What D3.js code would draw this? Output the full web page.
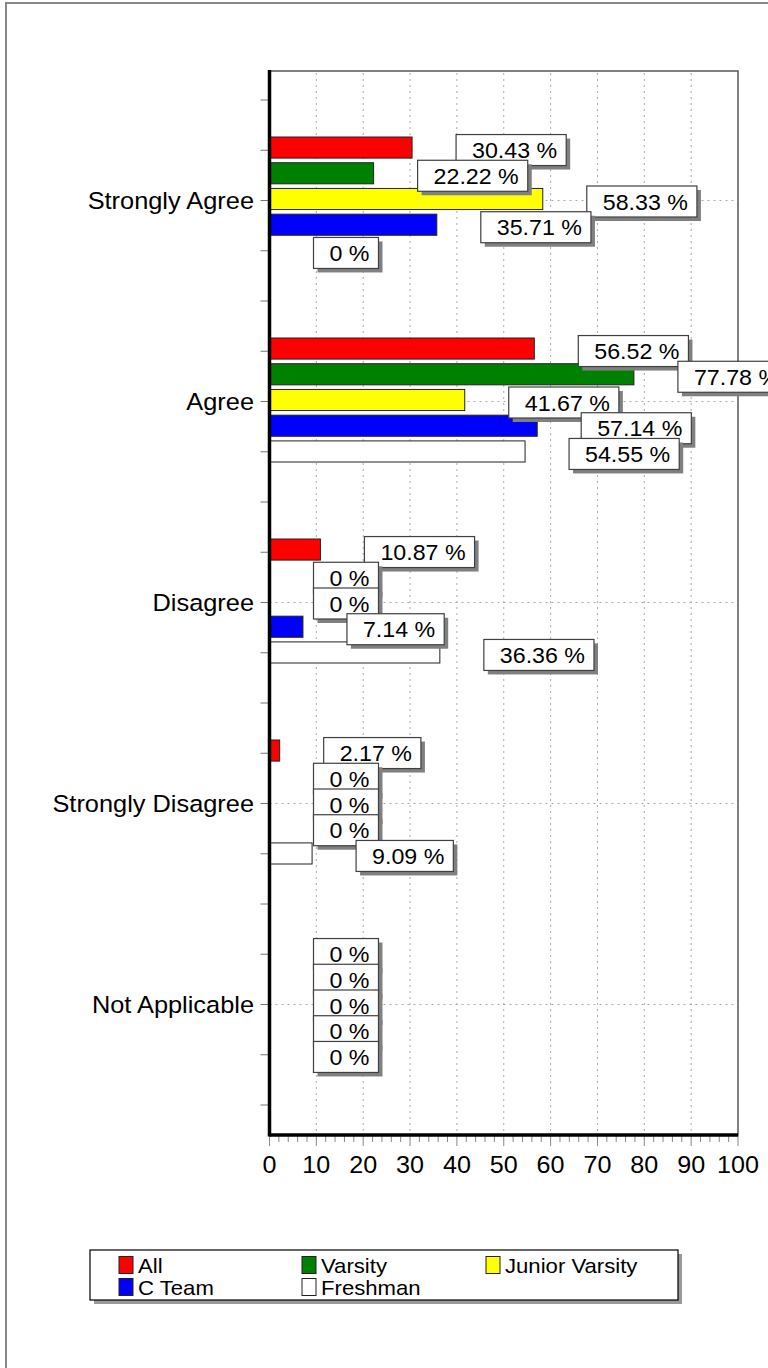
<!DOCTYPE html>
<html><head><meta charset="utf-8">
<script src="https://cdn.jsdelivr.net/npm/d3@7"></script>
<style>html,body{margin:0;padding:0;background:#fff;overflow:hidden}</style>
</head><body>
<svg id="chart" width="768" height="1368"></svg>
<script>
const categories = ["Strongly Agree","Agree","Disagree","Strongly Disagree","Not Applicable"];
const seriesNames = ["All","Varsity","Junior Varsity","C Team","Freshman"];
const seriesColors = ["#ff0000","#008000","#ffff00","#0000ff","#ffffff"];
const allValues = [30.43,56.52,10.87,2.17,0];
const varsityValues = [22.22,77.78,0,0,0];
const juniorVarsityValues = [58.33,41.67,0,0,0];
const cTeamValues = [35.71,57.14,7.14,0,0];
const freshmanValues = [0,54.55,36.36,9.09,0];
const xTicks = [0,10,20,30,40,50,60,70,80,90,100];

const seriesValues = [allValues,varsityValues,juniorVarsityValues,cTeamValues,freshmanValues];
const FONT = "'Liberation Sans', Arial, sans-serif";
const SX = 1.08;

const svg = d3.select("#chart");
// outer frame
svg.append("rect").attr("x",6).attr("y",3).attr("width",900).attr("height",1500)
  .attr("fill","none").attr("stroke","#888").attr("stroke-width",2);

const plot = {left:269.5,right:738,top:71,bottom:1135};
const x = d3.scaleLinear().domain([0,100]).range([plot.left,plot.right]);
const y = d3.scaleBand().domain(categories).range([100,1105]);
const inner = d3.scaleBand().domain(seriesNames)
  .range([y.bandwidth()/2-63.5, y.bandwidth()/2+60.5]).paddingInner(0.18);

// plot border
svg.append("rect").attr("x",plot.left).attr("y",plot.top)
  .attr("width",plot.right-plot.left).attr("height",plot.bottom-plot.top)
  .attr("fill","none").attr("stroke","#555").attr("stroke-width",1.5);

// vertical grid
svg.append("g").selectAll("line").data(xTicks.filter(t=>t>0&&t<100)).join("line")
  .attr("x1",d=>x(d)).attr("x2",d=>x(d)).attr("y1",plot.top+2).attr("y2",plot.bottom)
  .attr("stroke","#aaa").attr("stroke-dasharray","2,4");
// horizontal grid at category centers
svg.append("g").selectAll("line").data(categories).join("line")
  .attr("x1",plot.left).attr("x2",plot.right)
  .attr("y1",d=>y(d)+y.bandwidth()/2).attr("y2",d=>y(d)+y.bandwidth()/2)
  .attr("stroke","#aaa").attr("stroke-dasharray","2,4");

// y minor ticks
const yTickPos = d3.range(0,21).map(k=>100+k*y.bandwidth()/4);
svg.append("g").selectAll("line").data(yTickPos).join("line")
  .attr("x1",plot.left-9).attr("x2",plot.left).attr("y1",d=>d).attr("y2",d=>d)
  .attr("stroke","#777").attr("stroke-width",1);

// x axis ticks (major + minor)
const minor = d3.range(0,101,2);
svg.append("g").selectAll("line").data(minor).join("line")
  .attr("x1",d=>x(d)).attr("x2",d=>x(d)).attr("y1",plot.bottom)
  .attr("y2",d=>d%10===0?plot.bottom+11:plot.bottom+7)
  .attr("stroke","#888").attr("stroke-width",1);
svg.append("g").selectAll("text").data(xTicks).join("text")
  .attr("transform",d=>`translate(${x(d)},1173) scale(${SX},1)`)
  .attr("text-anchor","middle").attr("font-family",FONT).attr("font-size",23.3)
  .attr("fill","#000").text(d=>d);

// category labels
svg.append("g").selectAll("text").data(categories).join("text")
  .attr("transform",d=>`translate(254,${y(d)+y.bandwidth()/2+8.5}) scale(${SX},1)`)
  .attr("text-anchor","end").attr("font-family",FONT).attr("font-size",23.5)
  .attr("fill","#000").text(d=>d);

// bars
const barData = [];
seriesNames.forEach((s,si)=>{
  categories.forEach((c,ci)=>{
    barData.push({s,si,c,v:seriesValues[si][ci]});
  });
});
svg.append("g").selectAll("rect").data(barData).join("rect")
  .attr("x",x(0)).attr("y",d=>y(d.c)+inner(d.s))
  .attr("width",d=>x(d.v)-x(0)).attr("height",inner.bandwidth())
  .attr("fill",d=>seriesColors[d.si]).attr("stroke","#222").attr("stroke-width",1);

// axes lines (thick)
svg.append("line").attr("x1",plot.left).attr("x2",plot.left).attr("y1",plot.top-1).attr("y2",plot.bottom+1.5)
  .attr("stroke","#000").attr("stroke-width",3.5);
svg.append("line").attr("x1",plot.left).attr("x2",plot.right).attr("y1",plot.bottom).attr("y2",plot.bottom)
  .attr("stroke","#000").attr("stroke-width",3.5);

// value labels
const lblG = svg.append("g");
barData.forEach(d=>{
  const cy = y(d.c)+inner(d.s)+inner.bandwidth()/2+2.5;
  const bx = x(d.v)+44;
  const g = lblG.append("g");
  const shadow = g.append("rect").attr("fill","#808080");
  const box = g.append("rect").attr("fill","#fff").attr("stroke","#404040").attr("stroke-width",1.2);
  const t = g.append("text").attr("font-family",FONT).attr("font-size",21.5).attr("fill","#000")
    .attr("transform",`translate(${bx+16},${cy+8}) scale(${SX},1)`)
    .text(d3.format(".4~")(d.v)+" %");
  const w = t.node().getComputedTextLength()*SX + 25;
  box.attr("x",bx).attr("y",cy-15.5).attr("width",w).attr("height",31);
  shadow.attr("x",bx+4).attr("y",cy-15.5+4).attr("width",w).attr("height",31);
});

// legend
const leg = {x:90,y:1250,w:588,h:50};
svg.append("rect").attr("x",leg.x+4).attr("y",leg.y+4).attr("width",leg.w).attr("height",leg.h)
  .attr("fill","#999");
svg.append("rect").attr("x",leg.x).attr("y",leg.y).attr("width",leg.w).attr("height",leg.h)
  .attr("fill","#fff").attr("stroke","#000").attr("stroke-width",1.2);
const legCols = [119,302,486];
const legRows = [1265,1287];
const lg = svg.append("g").selectAll("g").data(seriesNames).join("g")
  .attr("transform",(d,i)=>`translate(${legCols[i%3]},${legRows[Math.floor(i/3)]})`);
lg.append("rect").attr("x",0).attr("y",-8.5).attr("width",14).attr("height",17)
  .attr("fill",(d,i)=>seriesColors[i]).attr("stroke","#222").attr("stroke-width",1);
lg.append("text").attr("transform",`translate(19,7.5) scale(${SX},1)`)
  .attr("font-family",FONT).attr("font-size",20.5).attr("fill","#000").text(d=>d);
</script>
</body></html>
